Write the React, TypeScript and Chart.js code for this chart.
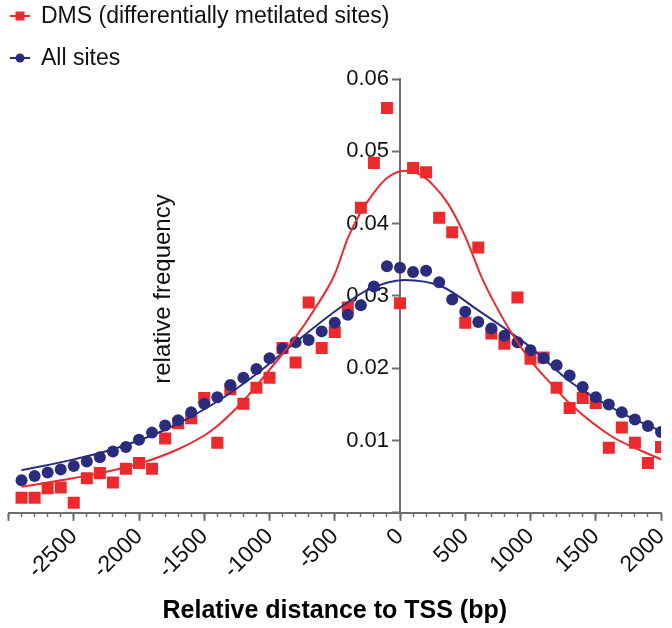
import React, { useEffect, useRef } from 'react';
import { Chart, registerables } from 'chart.js';

Chart.register(...registerables);

// Distance to TSS (bp) for each measured bin
const positions = [
  -2900, -2800, -2700, -2600, -2500, -2400, -2300, -2200, -2100, -2000,
  -1900, -1800, -1700, -1600, -1500, -1400, -1300, -1200, -1100, -1000,
  -900, -800, -700, -600, -500, -400, -300, -200, -100, 0,
  100, 200, 300, 400, 500, 600, 700, 800, 900, 1000,
  1100, 1200, 1300, 1400, 1500, 1600, 1700, 1800, 1900, 2000,
];

// DMS (differentially metilated sites) relative frequency
const dmsValues = [
  0.0021, 0.0021, 0.0034, 0.0035, 0.0014, 0.0048, 0.0055, 0.0042, 0.0061, 0.0069,
  0.0061, 0.0103, 0.0124, 0.0131, 0.0159, 0.0097, 0.0171, 0.0151, 0.0173, 0.0187,
  0.0228, 0.0208, 0.0291, 0.0228, 0.0250, 0.0284, 0.0422, 0.0484, 0.0560, 0.0290,
  0.0477, 0.0471, 0.0408, 0.0388, 0.0263, 0.0367, 0.0248, 0.0234, 0.0298, 0.0213,
  0.0215, 0.0173, 0.0145, 0.0159, 0.0152, 0.0090, 0.0118, 0.0097, 0.0069, 0.0091,
];

// All sites relative frequency
const allValues = [
  0.0045, 0.0051, 0.0056, 0.0060, 0.0065, 0.0071, 0.0077, 0.0085, 0.0091, 0.0101,
  0.0111, 0.0121, 0.0128, 0.0139, 0.0151, 0.0160, 0.0177, 0.0187, 0.0199, 0.0214,
  0.0227, 0.0236, 0.0239, 0.0251, 0.0263, 0.0274, 0.0287, 0.0313, 0.0341, 0.0339,
  0.0333, 0.0335, 0.0319, 0.0295, 0.0278, 0.0264, 0.0255, 0.0245, 0.0236, 0.0225,
  0.0214, 0.0204, 0.0190, 0.0174, 0.0160, 0.0150, 0.0139, 0.0129, 0.0120, 0.0112,
];

// Fitted curves
const dmsFitX = [-2900, -2600, -2300, -2000, -1700, -1500, -1400, -1200, -1000, -800, -650, -500, -400, -300, -200, -100, 40, 150, 250, 370, 500, 630, 730, 850, 1000, 1160, 1320, 1620, 2000];
const dmsFitY = [0.0036, 0.0045, 0.0055, 0.0068, 0.0088, 0.0107, 0.0120, 0.0155, 0.0198, 0.0243, 0.0283, 0.0330, 0.0380, 0.0416, 0.0443, 0.0463, 0.0473, 0.0468, 0.0454, 0.0427, 0.0382, 0.0324, 0.0288, 0.0250, 0.0211, 0.0178, 0.0148, 0.0106, 0.0074];

const allFitX = [-2900, -2500, -2200, -1800, -1400, -1100, -800, -450, -250, 30, 320, 600, 850, 1000, 1300, 1700, 2000];
const allFitY = [0.0059, 0.0074, 0.0088, 0.0115, 0.0154, 0.0192, 0.0236, 0.0285, 0.0308, 0.0322, 0.0313, 0.0280, 0.0249, 0.0229, 0.0182, 0.0138, 0.0113];

const xTicksMajor = [-2500, -2000, -1500, -1000, -500, 0, 500, 1000, 1500, 2000];

const RED = '#ec2a2e';
const BLUE = '#2a2d7e';
const AXIS = '#6e6e6e';
const FONT = '"Liberation Sans", Arial, Helvetica, sans-serif';

const legendItems = [
  { text: 'DMS (differentially metilated sites)', color: RED, shape: 'rect' },
  { text: 'All sites', color: BLUE, shape: 'circle' },
];

const customLegend = {
  id: 'customLegend',
  afterDraw(chart: any) {
    const ctx = chart.ctx as CanvasRenderingContext2D;
    ctx.save();
    legendItems.forEach((it, i) => {
      const y = 16 + i * 42;
      ctx.strokeStyle = it.color;
      ctx.lineWidth = 2;
      ctx.beginPath();
      ctx.moveTo(10, y);
      ctx.lineTo(30, y);
      ctx.stroke();
      ctx.fillStyle = it.color;
      if (it.shape === 'rect') {
        ctx.fillRect(15.5, y - 4.5, 9, 9);
      } else {
        ctx.beginPath();
        ctx.arc(20, y, 4.5, 0, Math.PI * 2);
        ctx.fill();
      }
      ctx.fillStyle = '#111';
      ctx.font = `23px ${FONT}`;
      ctx.textAlign = 'left';
      ctx.textBaseline = 'middle';
      ctx.fillText(it.text, 41, y + 1);
    });
    ctx.restore();
  },
};

const yTitle = {
  id: 'yTitle',
  afterDraw(chart: any) {
    const ctx = chart.ctx as CanvasRenderingContext2D;
    ctx.save();
    ctx.translate(163, 289);
    ctx.rotate(-Math.PI / 2);
    ctx.fillStyle = '#111';
    ctx.font = `24px ${FONT}`;
    ctx.textAlign = 'center';
    ctx.textBaseline = 'middle';
    ctx.fillText('relative frequency', 0, 0);
    ctx.restore();
  },
};

// Place the y axis where x = 0 (crossing axes)
const yAxisAtZero = {
  id: 'yAxisAtZero',
  afterLayout(chart: any) {
    const ys = chart.scales.y;
    const px = chart.scales.x.getPixelForValue(0);
    ys.left = 0;
    ys.right = px;
  },
};

export default function App() {
  const ref = useRef<HTMLCanvasElement | null>(null);

  useEffect(() => {
    document.body.style.margin = '0';
    if (!ref.current) return;
    const pts = (xs: number[], ys: number[]) => xs.map((x, i) => ({ x, y: ys[i] }));
    const chart = new Chart(ref.current, {
      type: 'scatter',
      data: {
        datasets: [
          {
            label: 'DMS fit',
            data: pts(dmsFitX, dmsFitY),
            showLine: true,
            borderColor: RED,
            borderWidth: 2,
            pointRadius: 0,
            cubicInterpolationMode: 'monotone',
            order: 0,
          },
          {
            label: 'All sites fit',
            data: pts(allFitX, allFitY),
            showLine: true,
            borderColor: BLUE,
            borderWidth: 2,
            pointRadius: 0,
            cubicInterpolationMode: 'monotone',
            order: 1,
          },
          {
            label: 'All sites',
            data: pts(positions, allValues),
            pointStyle: 'circle',
            pointRadius: 6,
            backgroundColor: BLUE,
            borderWidth: 0,
            order: 2,
          },
          {
            label: 'DMS (differentially metilated sites)',
            data: pts(positions, dmsValues),
            pointStyle: 'rect',
            pointRadius: 8.5,
            backgroundColor: RED,
            borderWidth: 0,
            order: 3,
          },
        ] as any,
      },
      options: {
        animation: false,
        responsive: false,
        layout: { padding: { top: 79, left: 8, right: 11, bottom: 2 } },
        plugins: { legend: { display: false }, tooltip: { enabled: false } },
        scales: {
          x: {
            type: 'linear',
            position: 'bottom',
            min: -3000,
            max: 2000,
            afterFit: (s: any) => {
              s.paddingLeft = 0;
              s.paddingRight = 0;
            },
            afterBuildTicks: (s: any) => {
              s.ticks = [-3000, ...xTicksMajor].map((v) => ({ value: v }));
            },
            ticks: {
              autoSkip: false,
              minRotation: 45,
              maxRotation: 45,
              padding: 2,
              color: '#111',
              font: { family: FONT, size: 23 },
              callback: (v: any) => (v === -3000 ? '' : String(v)),
            },
            grid: { drawOnChartArea: false, drawTicks: true, tickLength: 8, color: AXIS, tickWidth: 2 },
            border: { color: AXIS, width: 2 },
            title: {
              display: true,
              text: 'Relative distance to TSS (bp)',
              color: '#000',
              font: { family: FONT, size: 25, weight: 'bold' },
              padding: { top: 10, bottom: 0 },
            },
          },
          xMinor: {
            type: 'linear',
            position: { y: 0 },
            min: -3000,
            max: 2000,
            ticks: { display: false, stepSize: 100, autoSkip: false },
            grid: { drawOnChartArea: false, drawTicks: true, tickLength: 4, color: AXIS, tickWidth: 1.5 },
            border: { display: false },
          },
          y: {
            type: 'linear',
            position: 'left',
            min: 0,
            max: 0.06,
            afterFit: (s: any) => {
              s.width = 0;
            },
            ticks: {
              stepSize: 0.01,
              padding: 3,
              color: '#111',
              font: { family: FONT, size: 22 },
              callback: (v: any) => (Math.abs(v) < 1e-9 ? '' : Number(v).toFixed(2)),
            },
            grid: { drawOnChartArea: false, drawTicks: true, tickLength: 8, color: AXIS, tickWidth: 2 },
            border: { color: AXIS, width: 2 },
          },
        } as any,
      },
      plugins: [yAxisAtZero, customLegend, yTitle],
    });
    return () => chart.destroy();
  }, []);

  return (
    <div style={{ width: 672, height: 628 }}>
      <canvas ref={ref} width={672} height={628} style={{ display: 'block' }} />
    </div>
  );
}
